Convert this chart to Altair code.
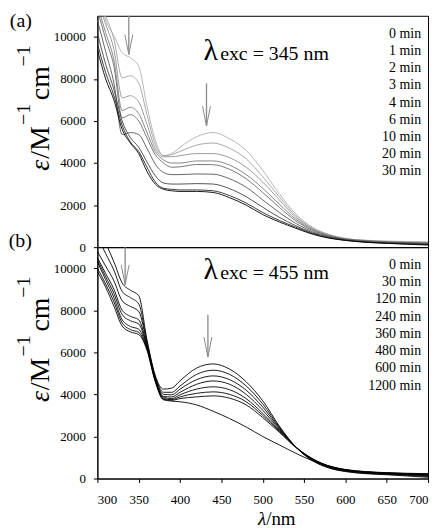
import altair as alt
import pandas as pd

FONT = "Liberation Serif"

wl = [300, 310, 320, 330, 340, 350, 360, 370, 380, 390, 400, 420, 440, 460,
      480, 500, 520, 540, 560, 580, 600, 625, 650, 675, 700]

# ---- panel (a): excitation 345 nm ----
times_a = ["0 min", "1 min", "2 min", "3 min", "4 min", "6 min", "10 min", "20 min", "30 min"]
a_0 = [12600, 10800, 10050, 9250, 9000, 8600, 6700, 5100, 4350, 4450, 4750, 5250, 5450, 5150, 4600, 3650, 2550, 1580, 950, 610, 420, 330, 290, 270, 250]
a_1 = [12200, 11000, 9900, 8050, 8150, 7800, 6300, 4900, 4350, 4400, 4550, 4850, 4950, 4700, 4200, 3350, 2400, 1500, 920, 590, 410, 320, 270, 250, 230]
a_2 = [11800, 10600, 9400, 7100, 7200, 6900, 5850, 4700, 4300, 4300, 4350, 4450, 4450, 4250, 3800, 3100, 2250, 1420, 880, 570, 400, 310, 260, 230, 210]
a_3 = [11500, 10200, 8900, 6500, 6650, 6350, 5450, 4550, 4150, 4000, 4000, 4100, 4100, 3900, 3450, 2800, 2050, 1330, 840, 550, 390, 300, 250, 220, 190]
a_4 = [11300, 9900, 8600, 6150, 6300, 6000, 5200, 4400, 4000, 3800, 3820, 3930, 3920, 3700, 3250, 2600, 1900, 1250, 800, 530, 380, 290, 240, 210, 180]
a_6 = [10800, 9300, 7800, 5350, 5450, 5350, 4700, 3950, 3550, 3450, 3450, 3480, 3470, 3250, 2850, 2250, 1650, 1130, 740, 500, 360, 270, 220, 190, 160]
a_10 = [10200, 8700, 7500, 6000, 5200, 4750, 4050, 3400, 3050, 3000, 3000, 3020, 3000, 2780, 2400, 1900, 1420, 1020, 690, 470, 340, 250, 200, 170, 140]
a_20 = [9700, 8300, 7200, 5800, 5000, 4550, 3800, 3100, 2800, 2750, 2720, 2720, 2680, 2450, 2100, 1650, 1270, 950, 650, 450, 330, 240, 190, 150, 120]
a_30 = [9400, 8000, 7000, 5600, 4950, 4450, 3600, 3000, 2750, 2680, 2650, 2650, 2600, 2350, 2000, 1550, 1200, 900, 620, 430, 320, 230, 180, 140, 100]
series_a = [a_0, a_1, a_2, a_3, a_4, a_6, a_10, a_20, a_30]
colors_a = ["#b0b0b0", "#a0a0a0", "#909090", "#7a7a7a", "#686868", "#555555", "#404040", "#252525", "#000000"]

# ---- panel (b): excitation 455 nm ----
times_b = ["0 min", "30 min", "120 min", "240 min", "360 min", "480 min", "600 min", "1200 min"]
b_0 = [12000, 11200, 10300, 9300, 8950, 8700, 6600, 4900, 4250, 4300, 4650, 5250, 5450, 5200, 4600, 3700, 2500, 1500, 850, 500, 330, 230, 180, 120, 60]
b_30 = [11500, 10700, 9900, 8900, 8600, 8300, 6500, 4850, 4100, 4100, 4400, 4950, 5150, 4950, 4400, 3550, 2450, 1500, 880, 520, 350, 250, 200, 150, 100]
b_120 = [10800, 10100, 9400, 8450, 8180, 7950, 6400, 4800, 4000, 3980, 4250, 4700, 4880, 4700, 4200, 3400, 2400, 1500, 900, 550, 370, 270, 220, 180, 130]
b_240 = [10500, 9750, 9000, 8000, 7710, 7550, 6300, 4750, 3900, 3880, 4100, 4480, 4640, 4480, 4000, 3250, 2350, 1500, 920, 570, 390, 290, 240, 200, 160]
b_360 = [10400, 9600, 8800, 7800, 7500, 7350, 6250, 4700, 3850, 3800, 3980, 4250, 4360, 4220, 3800, 3100, 2300, 1500, 930, 580, 400, 300, 250, 210, 180]
b_480 = [10300, 9450, 8600, 7550, 7230, 7100, 6200, 4700, 3800, 3750, 3880, 4050, 4120, 4000, 3650, 3000, 2250, 1500, 940, 590, 410, 310, 260, 220, 200]
b_600 = [10000, 9250, 8400, 7400, 7080, 6950, 6150, 4650, 3750, 3720, 3800, 3880, 3930, 3820, 3500, 2900, 2200, 1480, 950, 600, 420, 320, 270, 230, 210]
b_1200 = [9850, 9100, 8200, 7250, 6970, 6850, 6100, 4600, 3750, 3680, 3650, 3500, 3200, 2850, 2450, 2000, 1600, 1200, 850, 600, 430, 330, 280, 250, 230]
series_b = [b_0, b_30, b_120, b_240, b_360, b_480, b_600, b_1200]
colors_b = ["#000000"] * len(times_b)

# arrows (nm, start eps, end eps)
arrows_a = {"x": [338, 432], "y1": [11000, 7790], "y2": [9160, 5760]}
arrows_b = {"x": [333.6, 433.7], "y1": [11000, 7790], "y2": [9215, 5780]}

# annotation  λexc
ann_a = {"lam_x": 428.5, "rest_x": 448.5, "y": 8900, "rest": "exc = 345 nm"}
ann_b = {"lam_x": 428.5, "rest_x": 448.5, "y": 9500, "rest": "exc = 455 nm"}

# y-axis title pieces: text, font size, style, raised, start offset along the axis (px from plot top)
ytitle_parts = [
    ("ε", 28, "italic", False, 156),
    ("/M", 28, "normal", False, 144),
    ("−1", 20, "normal", True, 110),
    ("cm", 28, "normal", False, 85),
    ("−1", 20, "normal", True, 51),
]
x_ticks = [300, 350, 400, 450, 500, 550, 600, 650, 700]
y_ticks = [0, 2000, 4000, 6000, 8000, 10000]

YMAX = 11000
W, H = 333, 233
ARROW_PATH = "M-0.8,-4L0,0L0.8,-4"


def long_df(times, series):
    rows = []
    for t, s in zip(times, series):
        for x, v in zip(wl, s):
            rows.append({"time": t, "wl": x, "eps": v})
    return pd.DataFrame(rows)


def txt(text, **kw):
    return alt.Chart(pd.DataFrame({"t": [text]})).mark_text(font=FONT, color="black", **kw)


def panel(times, series, colors, arrows, ann, label, show_x, cfield, label_b=None):
    xaxis = alt.Axis(values=x_ticks, format="d", title=None, labelFont=FONT,
                     labelFontSize=13, tickSize=4, labelPadding=11) if show_x else None
    xs = alt.Scale(domain=[300, 700], nice=False, zero=False)
    ys = alt.Scale(domain=[0, YMAX], nice=False)
    yaxis = alt.Axis(values=y_ticks, format="d", title=None,
                     labelFont=FONT, labelFontSize=13, tickSize=4, labelPadding=8)

    df = long_df(times, series).rename(columns={"time": cfield})
    lines = alt.Chart(df).mark_line(
        clip=True, strokeWidth=0.9, interpolate="monotone"
    ).encode(
        x=alt.X("wl:Q", scale=xs, axis=xaxis),
        y=alt.Y("eps:Q", scale=ys, axis=yaxis),
        color=alt.Color(f"{cfield}:N", scale=alt.Scale(domain=times, range=colors), legend=None),
    )

    adf = pd.DataFrame(arrows)
    shafts = alt.Chart(adf).mark_rule(color="#8a8a8a", strokeWidth=1.3).encode(
        x="x:Q", y="y1:Q", y2="y2:Q")
    heads = alt.Chart(adf).mark_point(shape=ARROW_PATH, size=100, filled=False,
                                      color="#8a8a8a", strokeWidth=1, opacity=1).encode(
        x="x:Q", y="y2:Q")

    lam = alt.Chart(pd.DataFrame({"x": [ann["lam_x"]], "y": [ann["y"]], "t": ["λ"]})).mark_text(
        align="left", baseline="alphabetic", font=FONT, fontSize=30, color="black"
    ).encode(x="x:Q", y="y:Q", text="t:N")
    rest = alt.Chart(pd.DataFrame({"x": [ann["rest_x"]], "y": [ann["y"]], "t": [ann["rest"]]})).mark_text(
        align="left", baseline="alphabetic", font=FONT, fontSize=20, color="black"
    ).encode(x="x:Q", y="y:Q", text="t:N")

    leg_df = pd.DataFrame({"label": times, "i": list(range(len(times)))})
    legend = alt.Chart(leg_df).transform_calculate(
        ypos=f"{YMAX} - (18 + datum.i * 17.35) * {YMAX} / {H}"
    ).mark_text(align="right", baseline="middle", font=FONT, fontSize=14, color="black").encode(
        x=alt.value(326), y="ypos:Q", text="label:N")

    layers = [lines, shafts, heads, lam, rest, legend]

    # rotated y-axis title built from pieces (italic epsilon, raised exponents)
    for t, fs, style, raised, start in ytitle_parts:
        layers.append(txt(t, align="left", baseline="alphabetic", angle=270, fontSize=fs,
                          fontStyle=style).encode(
            x=alt.value(-68 if raised else -49), y=alt.value(start), text="t:N"))

    if show_x:
        layers.append(txt("λ", align="right", baseline="alphabetic", fontSize=19,
                          fontStyle="italic").encode(x=alt.value(170), y=alt.value(280), text="t:N"))
        layers.append(txt("/nm", align="left", baseline="alphabetic", fontSize=19).encode(
            x=alt.value(170), y=alt.value(280), text="t:N"))

    if label:
        layers.append(txt(label, align="right", baseline="middle", fontSize=20).encode(
            x=alt.value(-66), y=alt.value(5), text="t:N"))
    if label_b:
        layers.append(txt(label_b, align="right", baseline="middle", fontSize=20).encode(
            x=alt.value(-66), y=alt.value(H - 6), text="t:N"))

    return alt.layer(*layers).properties(width=W, height=H)


top = panel(times_a, series_a, colors_a, arrows_a, ann_a, "(a)", False, "ta", label_b="(b)")
bottom = panel(times_b, series_b, colors_b, arrows_b, ann_b, "", True, "tb")

chart = alt.vconcat(top, bottom, spacing=0, bounds="flush").resolve_scale(
    color="independent"
).properties(
    padding={"left": 0, "top": 0, "right": 4, "bottom": 0},
    background="white",
).configure(font=FONT).configure_view(stroke="black", strokeWidth=1).configure_axis(
    labelFont=FONT, titleFont=FONT, labelColor="black", titleColor="black",
    domainColor="black", tickColor="black", grid=False,
)

chart.save("out.html", embed_options={"renderer": "svg", "actions": False})
